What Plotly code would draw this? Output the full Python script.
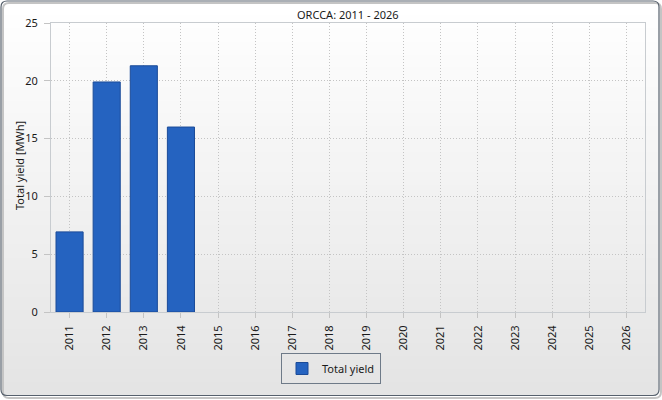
import plotly.graph_objects as go

# values
years = [str(y) for y in range(2011, 2027)]
yield_years = ["2011", "2012", "2013", "2014"]
total_yield = [6.93, 19.9, 21.3, 16.0]

W, H = 662, 400


def px(x):
    return x / W


def py(y):
    return 1 - y / H


fig = go.Figure()
fig.add_trace(go.Bar(
    x=yield_years,
    y=total_yield,
    name="Total yield",
    marker=dict(color="#2563c0", line=dict(color="#1b4b98", width=1)),
))

# background gradient (white at top -> light grey at bottom), drawn as strips
shapes = []
n = 60
top, bottom = 2, 395
for i in range(n):
    y0 = top + (bottom - top) * i / n
    y1 = min(bottom, top + (bottom - top) * (i + 1) / n + 2)
    t = i / (n - 1)
    c = int(round(255 - t * (255 - 228)))
    shapes.append(dict(
        type="rect", xref="paper", yref="paper", layer="below",
        x0=px(2), x1=px(658), y0=py(y1), y1=py(y0),
        fillcolor=f"rgb({c},{c},{c})", line=dict(width=0),
    ))

# drop shadow and rounded frame
r = 6
def rounded(x0, y0, x1, y1, r):
    return (f"M {px(x0 + r)},{py(y0)} L {px(x1 - r)},{py(y0)} "
            f"Q {px(x1)},{py(y0)} {px(x1)},{py(y0 + r)} "
            f"L {px(x1)},{py(y1 - r)} Q {px(x1)},{py(y1)} {px(x1 - r)},{py(y1)} "
            f"L {px(x0 + r)},{py(y1)} Q {px(x0)},{py(y1)} {px(x0)},{py(y1 - r)} "
            f"L {px(x0)},{py(y0 + r)} Q {px(x0)},{py(y0)} {px(x0 + r)},{py(y0)} Z")

shapes.append(dict(type="path", xref="paper", yref="paper", layer="below",
                   path=rounded(3, 3, 661, 398, r),
                   line=dict(color="#c4c4c4", width=2)))
shapes.append(dict(type="path", xref="paper", yref="paper", layer="below",
                   path=rounded(1, 1, 659, 395.5, r),
                   line=dict(color="#56606c", width=1.2)))

font = "Noto Sans, DejaVu Sans, sans-serif"

fig.update_layout(
    width=W, height=H,
    margin=dict(l=0, r=0, t=0, b=0),
    paper_bgcolor="white",
    plot_bgcolor="rgba(0,0,0,0)",
    font=dict(family=font, size=11, color="#1a1a1a"),
    bargap=0.27,
    shapes=shapes,
    showlegend=True,
    legend=dict(
        x=px(331), xanchor="center", y=py(353), yanchor="top",
        orientation="h",
        bgcolor="rgba(0,0,0,0)",
        bordercolor="#6e7a88", borderwidth=1,
        font=dict(size=11, color="#1a1a1a"),
    ),
    annotations=[
        dict(text="ORCCA: 2011 - 2026", xref="paper", yref="paper",
             x=px(348), y=py(14), xanchor="center", yanchor="middle",
             showarrow=False, font=dict(size=11, color="#1a1a1a")),
        dict(text="Total yield [MWh]", xref="paper", yref="paper",
             x=px(19), y=py(166), xanchor="center", yanchor="middle",
             showarrow=False, textangle=-90,
             font=dict(size=11, color="#1a1a1a")),
    ],
    xaxis=dict(
        domain=[px(51), px(645)],
        type="category",
        categoryorder="array", categoryarray=years,
        range=[-0.5, 15.5],
        tickangle=-90,
        ticklabelstandoff=3,
        showgrid=True, gridcolor="#c4c4c4", griddash="1px,2px", gridwidth=1,
        showline=True, linecolor="#c8ccd0", mirror=True,
        ticks="outside", ticklen=5, tickcolor="#c4c4c4",
        automargin=False,
        fixedrange=True,
    ),
    yaxis=dict(
        domain=[py(312), py(23)],
        range=[0, 25], dtick=5,
        ticklabelstandoff=4,
        showgrid=True, gridcolor="#c4c4c4", griddash="1px,2px", gridwidth=1,
        zeroline=False,
        showline=True, linecolor="#c8ccd0", mirror=True,
        ticks="outside", ticklen=6, tickcolor="#c4c4c4",
        automargin=False,
        fixedrange=True,
    ),
)

fig.write_html("out.html", config={"displayModeBar": False},
               post_script="document.body.style.margin='0';")
